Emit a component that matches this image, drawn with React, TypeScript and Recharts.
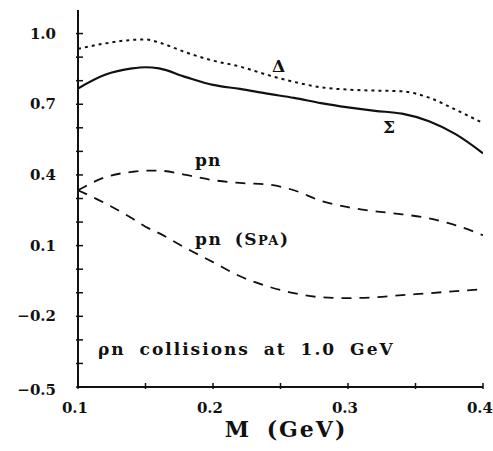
import React from 'react';
import { LineChart, Line, XAxis, YAxis, ReferenceDot } from 'recharts';

const mass = [0.10, 0.12, 0.14, 0.15, 0.16, 0.18, 0.20, 0.22, 0.24, 0.26, 0.28, 0.30, 0.32, 0.34, 0.36, 0.38, 0.40];
const delta = [0.935, 0.958, 0.973, 0.975, 0.962, 0.92, 0.885, 0.86, 0.825, 0.795, 0.772, 0.762, 0.758, 0.755, 0.728, 0.676, 0.62];
const sigma = [0.767, 0.825, 0.852, 0.857, 0.852, 0.815, 0.782, 0.765, 0.745, 0.727, 0.705, 0.687, 0.672, 0.66, 0.628, 0.572, 0.492];
const pn = [0.335, 0.39, 0.413, 0.418, 0.418, 0.40, 0.378, 0.366, 0.36, 0.335, 0.29, 0.263, 0.246, 0.233, 0.216, 0.186, 0.144];
const pnSpa = [0.335, 0.28, 0.216, 0.18, 0.153, 0.089, 0.03, -0.03, -0.072, -0.102, -0.119, -0.123, -0.119, -0.11, -0.102, -0.093, -0.085];

const xTicks = [0.1, 0.15, 0.2, 0.25, 0.3, 0.35, 0.4];
const xTickLabels = ['0.1', '0.2', '0.3', '0.4'];
const yTicks = [-0.5, -0.4, -0.3, -0.2, -0.1, 0, 0.1, 0.2, 0.3, 0.4, 0.5, 0.6, 0.7, 0.8, 0.9, 1.0];
const yTickLabels = ['-0.5', '-0.2', '0.1', '0.4', '0.7', '1.0'];

const data = mass.map((m, i) => ({ m, delta: delta[i], sigma: sigma[i], pn: pn[i], pnSpa: pnSpa[i] }));

const FONT = '"DejaVu Serif", serif';
const INK = '#111';

const fmt = (v: number) => v.toFixed(1);

const BottomTick = (props: any) => {
  const { x, y, payload } = props;
  const lbl = fmt(payload.value);
  const show = xTickLabels.includes(lbl) && Math.abs(payload.value * 10 - Math.round(payload.value * 10)) < 1e-6;
  return (
    <g>
      <line x1={x} y1={y + 2} x2={x} y2={y - 4} stroke={INK} strokeWidth={1.5} />
      {show && (
        <text x={x - 3} y={y + 26} textAnchor="middle" fontFamily={FONT} fontWeight="bold" fontSize={15} fill={INK}>
          {lbl}
        </text>
      )}
    </g>
  );
};

const TopTick = (props: any) => {
  const { x, y } = props;
  return <line x1={x} y1={y - 3} x2={x} y2={y + 4} stroke={INK} strokeWidth={1.5} />;
};

const LeftTick = (props: any) => {
  const { x, y, payload } = props;
  const lbl = fmt(payload.value);
  const show = yTickLabels.includes(lbl);
  return (
    <g>
      <line x1={x - 2} y1={y} x2={x + 5} y2={y} stroke={INK} strokeWidth={1.5} />
      {show && (
        <text x={x - 22} y={y + 5 + (payload.value < -0.45 ? 3 : 0)} textAnchor="end" fontFamily={FONT} fontWeight="bold" fontSize={15} fill={INK}>
          {lbl.replace('-', '\u2212')}
        </text>
      )}
    </g>
  );
};

const RightTick = (props: any) => {
  const { x, y } = props;
  return <line x1={x + 1} y1={y} x2={x - 3} y2={y} stroke={INK} strokeWidth={1.2} />;
};

const makeLabel = (text: any, size: number, ls = 0, ws = 0) => (p: any) => {
  const { viewBox } = p;
  return (
    <text
      x={viewBox.x}
      y={viewBox.y}
      fontFamily={FONT}
      fontWeight="bold"
      fontSize={size}
      fill={INK}
      style={{ letterSpacing: ls, wordSpacing: ws, whiteSpace: 'pre' }}
    >
      {text}
    </text>
  );
};

export default function App() {
  return (
    <div style={{ position: 'absolute', left: 0, top: 0, width: 493, height: 451, background: '#fff' }}>
      <LineChart width={493} height={451} data={data} margin={{ top: 10, right: 10, bottom: 34, left: 0 }}>
        <XAxis
          dataKey="m"
          type="number"
          domain={[0.1, 0.4]}
          ticks={xTicks}
          tick={<BottomTick />}
          tickSize={0}
          tickMargin={0}
          height={30}
          axisLine={{ stroke: INK, strokeWidth: 2 }}
          tickLine={false}
          interval={0}
          allowDataOverflow
        />
        <XAxis
          xAxisId="top"
          orientation="top"
          dataKey="m"
          type="number"
          domain={[0.1, 0.4]}
          ticks={xTicks}
          tick={<TopTick />}
          tickSize={0}
          tickMargin={0}
          height={0}
          axisLine={{ stroke: INK, strokeWidth: 2 }}
          tickLine={false}
          interval={0}
        />
        <YAxis
          type="number"
          domain={[-0.5, 1.1]}
          ticks={yTicks}
          tick={<LeftTick />}
          tickSize={0}
          tickMargin={0}
          width={78}
          axisLine={{ stroke: INK, strokeWidth: 2 }}
          tickLine={false}
          interval={0}
          allowDataOverflow
        />
        <YAxis
          yAxisId="right"
          orientation="right"
          type="number"
          domain={[-0.5, 1.1]}
          ticks={yTicks}
          tick={<RightTick />}
          tickSize={0}
          tickMargin={0}
          width={0}
          axisLine={{ stroke: INK, strokeWidth: 2 }}
          tickLine={false}
          interval={0}
        />
        <Line type="monotone" dataKey="delta" stroke={INK} strokeWidth={2} strokeDasharray="3 4" dot={false} isAnimationActive={false} />
        <Line type="monotone" dataKey="sigma" stroke={INK} strokeWidth={2.2} dot={false} isAnimationActive={false} />
        <Line type="monotone" dataKey="pn" stroke={INK} strokeWidth={1.8} strokeDasharray="10 8" dot={false} isAnimationActive={false} />
        <Line type="monotone" dataKey="pnSpa" stroke={INK} strokeWidth={1.8} strokeDasharray="10 8" dot={false} isAnimationActive={false} />
        <ReferenceDot x={0.2437} y={0.835} r={0} stroke="none" fill="none" label={makeLabel('Δ', 17)} />
        <ReferenceDot x={0.326} y={0.58} r={0} stroke="none" fill="none" label={makeLabel('Σ', 17)} />
        <ReferenceDot x={0.1867} y={0.436} r={0} stroke="none" fill="none" label={makeLabel('pn', 17, 1)} />
        <ReferenceDot
          x={0.1867}
          y={0.102}
          r={0}
          stroke="none"
          fill="none"
          label={makeLabel(
            <>
              {'pn (S'}
              <tspan fontSize={13}>PA</tspan>
              {')'}
            </>,
            17,
            1.5,
            5
          )}
        />
        <ReferenceDot
          x={0.1148}
          y={-0.364}
          r={0}
          stroke="none"
          fill="none"
          label={makeLabel('ρn collisions at 1.0 GeV', 17, 2, 6)}
        />
      </LineChart>
      <div
        style={{
          position: 'absolute',
          left: 0,
          top: 416,
          width: 572,
          textAlign: 'center',
          fontFamily: FONT,
          fontWeight: 'bold',
          fontSize: 22,
          letterSpacing: 2,
          wordSpacing: 6,
          color: INK,
          whiteSpace: 'pre',
        }}
      >
        {'M (GeV)'}
      </div>
    </div>
  );
}
